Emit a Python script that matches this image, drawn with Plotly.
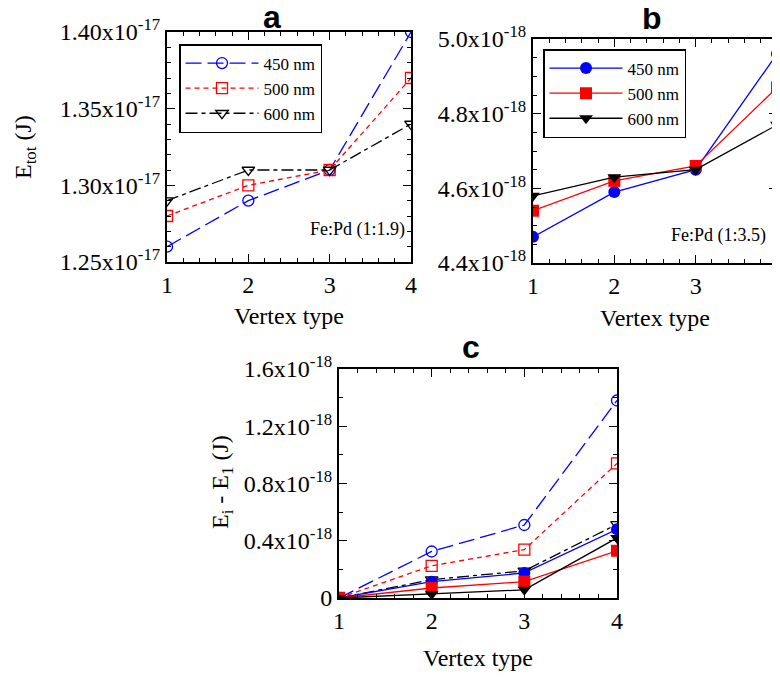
import plotly.graph_objects as go

vertex = [1, 2, 3, 4]
labels = ["450 nm", "500 nm", "600 nm"]

# panel a (Fe:Pd 1:1.9), J
a_450 = [1.26e-17, 1.29e-17, 1.31e-17, 1.40e-17]
a_500 = [1.28e-17, 1.30e-17, 1.31e-17, 1.37e-17]
a_600 = [1.29e-17, 1.31e-17, 1.31e-17, 1.34e-17]

# panel b (Fe:Pd 1:3.5), J
b_450 = [4.47e-18, 4.59e-18, 4.65e-18, 4.96e-18]
b_500 = [4.54e-18, 4.62e-18, 4.66e-18, 4.87e-18]
b_600 = [4.58e-18, 4.63e-18, 4.65e-18, 4.77e-18]

# panel c (Ei - E1), J
c_open_450 = [0.0, 0.325e-18, 0.51e-18, 1.38e-18]
c_open_500 = [0.0, 0.225e-18, 0.338e-18, 0.94e-18]
c_open_600 = [0.0, 0.128e-18, 0.19e-18, 0.515e-18]
c_fill_450 = [0.0, 0.114e-18, 0.175e-18, 0.48e-18]
c_fill_500 = [0.0, 0.07e-18, 0.114e-18, 0.33e-18]
c_fill_600 = [0.0, 0.027e-18, 0.057e-18, 0.42e-18]

a_ticks = [1.25e-17, 1.30e-17, 1.35e-17, 1.40e-17]
a_ticktext = ["1.25x10<sup>-17</sup>", "1.30x10<sup>-17</sup>", "1.35x10<sup>-17</sup>", "1.40x10<sup>-17</sup>"]
b_ticks = [4.4e-18, 4.6e-18, 4.8e-18, 5.0e-18]
b_ticktext = ["4.4x10<sup>-18</sup>", "4.6x10<sup>-18</sup>", "4.8x10<sup>-18</sup>", "5.0x10<sup>-18</sup>"]
c_ticks = [0, 0.4e-18, 0.8e-18, 1.2e-18, 1.6e-18]
c_ticktext = ["0", "0.4x10<sup>-18</sup>", "0.8x10<sup>-18</sup>", "1.2x10<sup>-18</sup>", "1.6x10<sup>-18</sup>"]

BLUE, RED, BLACK = "#0000ff", "#ff0000", "#000000"
SERIF = "Liberation Serif, Times New Roman, serif"
SANS = "Liberation Sans, Arial, sans-serif"

open_styles = [
    (BLUE, "circle-open", "16px,6px"),
    (RED, "square-open", "5px,4px"),
    (BLACK, "triangle-down-open", "12px,4px,4px,4px"),
]
fill_styles = [
    (BLUE, "circle"),
    (RED, "square"),
    (BLACK, "triangle-down"),
]

fig = go.Figure()

for ys, lab, (col, sym, dash) in zip([a_450, a_500, a_600], labels, open_styles):
    fig.add_trace(go.Scatter(
        x=vertex, y=ys, name=lab, mode="lines+markers", xaxis="x", yaxis="y",
        line=dict(color=col, width=1.3, dash=dash),
        marker=dict(symbol=sym, size=11, color=col, line=dict(width=1.3, color=col)),
        legend="legend"))

for ys, lab, (col, sym) in zip([b_450, b_500, b_600], labels, fill_styles):
    fig.add_trace(go.Scatter(
        x=vertex, y=ys, name=lab, mode="lines+markers", xaxis="x2", yaxis="y2",
        line=dict(color=col, width=1.3),
        marker=dict(symbol=sym, size=12, color=col),
        legend="legend2"))

for ys, (col, sym, dash) in zip([c_open_450, c_open_500, c_open_600], open_styles):
    fig.add_trace(go.Scatter(
        x=vertex, y=ys, mode="lines+markers", xaxis="x3", yaxis="y3", showlegend=False,
        line=dict(color=col, width=1.3, dash=dash),
        marker=dict(symbol=sym, size=11, color=col, line=dict(width=1.3, color=col))))

for ys, (col, sym) in zip([c_fill_450, c_fill_500, c_fill_600], fill_styles):
    fig.add_trace(go.Scatter(
        x=vertex, y=ys, mode="lines+markers", xaxis="x3", yaxis="y3", showlegend=False,
        line=dict(color=col, width=1.3),
        marker=dict(symbol=sym, size=12, color=col)))

# figure is placed 8px from the page corner (body margin)
OFF = 8
FW, FH = 772, 669

def px(X):
    return (X - OFF) / FW

def py(Y):
    return 1 - (Y - OFF) / FH

def xax(x0, x1, anchor):
    return dict(domain=[px(x0), px(x1)], anchor=anchor, range=[1, 4], tickvals=vertex,
                ticktext=[str(v) for v in vertex], automargin=False,
                showline=True, linecolor="black", linewidth=2, mirror="allticks",
                ticks="inside", ticklen=8, tickwidth=1.2, tickcolor="black",
                minor=dict(dtick=0.2, ticks="inside", ticklen=4, tickwidth=1.2, tickcolor="black"),
                showgrid=False, zeroline=False,
                tickfont=dict(family=SERIF, size=24, color="black"))

def yax(y0, y1, anchor, rng, tv, tt, mdt):
    return dict(domain=[py(y1), py(y0)], anchor=anchor, range=rng, tickvals=tv, ticktext=tt,
                automargin=False,
                showline=True, linecolor="black", linewidth=2, mirror="allticks",
                ticks="inside", ticklen=8, tickwidth=1.2, tickcolor="black",
                minor=dict(tick0=rng[0], dtick=mdt, ticks="inside", ticklen=4, tickwidth=1.2, tickcolor="black"),
                showgrid=False, zeroline=False,
                tickfont=dict(family=SERIF, size=24, color="black"))

fig.update_layout(
    width=FW, height=FH,
    margin=dict(l=0, r=0, t=0, b=0, autoexpand=False),
    paper_bgcolor="white", plot_bgcolor="white",
    xaxis=xax(167, 411, "y"),
    yaxis=yax(32, 262, "x", [1.25e-17, 1.40e-17], a_ticks, a_ticktext, 0.01e-17),
    xaxis2=xax(533, 777, "y2"),
    yaxis2=yax(39, 263, "x2", [4.4e-18, 5.0e-18], b_ticks, b_ticktext, 0.05e-18),
    xaxis3=xax(339, 617, "y3"),
    yaxis3=yax(369, 598, "x3", [0, 1.6e-18], c_ticks, c_ticktext, 0.2e-18),
    legend=dict(x=px(179), y=py(44), xanchor="left", yanchor="top",
                bordercolor="black", borderwidth=1.5, bgcolor="white",
                font=dict(family=SERIF, size=17, color="black"), itemwidth=73,
                tracegroupgap=0),
    legend2=dict(x=px(543), y=py(49), xanchor="left", yanchor="top",
                 bordercolor="black", borderwidth=1.5, bgcolor="white",
                 font=dict(family=SERIF, size=17, color="black"), itemwidth=73,
                 tracegroupgap=0),
)

ann = []
# panel titles
for txt, x, y in [("a", 272, 17), ("b", 652, 18), ("c", 471, 347)]:
    ann.append(dict(text="<b>%s</b>" % txt, x=px(x), y=py(y), xref="paper", yref="paper",
                    showarrow=False, font=dict(family=SANS, size=32, color="black"),
                    xanchor="center", yanchor="middle"))
# x-axis titles
for x, y in [(289, 316), (655, 318), (478, 658)]:
    ann.append(dict(text="Vertex type", x=px(x), y=py(y), xref="paper", yref="paper",
                    showarrow=False, font=dict(family=SERIF, size=24, color="black"),
                    xanchor="center", yanchor="middle"))
# y-axis titles
ann.append(dict(text="E<sub>tot</sub> (J)", x=px(25), y=py(147), xref="paper", yref="paper",
                showarrow=False, textangle=-90, font=dict(family=SERIF, size=24, color="black"),
                xanchor="center", yanchor="middle"))
ann.append(dict(text="E<sub>i</sub> - E<sub>1</sub> (J)", x=px(222), y=py(482), xref="paper", yref="paper",
                showarrow=False, textangle=-90, font=dict(family=SERIF, size=24, color="black"),
                xanchor="center", yanchor="middle"))
# composition labels
ann.append(dict(text="Fe:Pd (1:1.9)", x=px(407), y=py(229), xref="paper", yref="paper",
                showarrow=False, font=dict(family=SERIF, size=18, color="black"),
                xanchor="right", yanchor="middle"))
ann.append(dict(text="Fe:Pd (1:3.5)", x=px(768), y=py(235), xref="paper", yref="paper",
                showarrow=False, font=dict(family=SERIF, size=18, color="black"),
                xanchor="right", yanchor="middle"))
fig.update_layout(annotations=ann)

fig.write_html("out.html")
